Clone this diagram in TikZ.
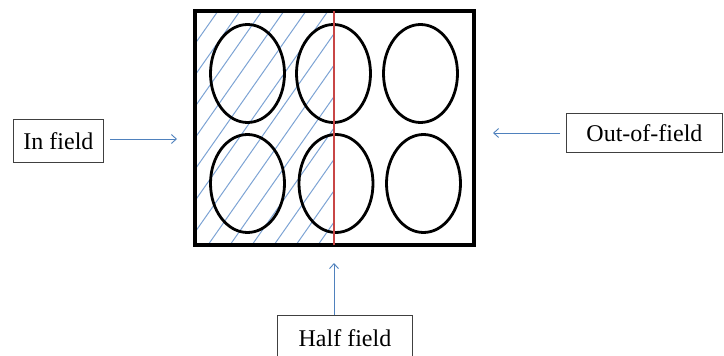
\documentclass[tikz,border=0pt]{standalone}
\usepackage{fontspec}
\setmainfont{Liberation Serif}
\usetikzlibrary{arrows.meta}
\definecolor{frameblue}{RGB}{79,129,189}
\definecolor{hatchblue}{RGB}{125,163,212}
\definecolor{cutred}{RGB}{200,70,70}
\definecolor{boxgray}{RGB}{64,64,64}
\tikzset{
  label box/.style={draw=boxgray, line width=0.9pt, fill=white, inner sep=0pt,
    font=\fontsize{24}{28}\selectfont, anchor=north west},
  pointer/.style={draw=frameblue, line width=0.9pt,
    -{Straight Barb[length=5pt,width=9pt,line width=0.9pt]}},
  well/.style={draw=black, line width=2.8pt},
  hatch/.style={draw=hatchblue, line width=1pt},
  plate/.style={draw=black, line width=3.2pt},
  cut/.style={draw=cutred, line width=2.8pt}
}
\begin{document}
\begin{tikzpicture}[x=1pt,y=-1pt]
  \useasboundingbox (0,0) rectangle (724,356);
  \clip (0,0) rectangle (724,356);

  % hatched half of the plate
  \begin{scope}
    \clip (195,11) rectangle (334,245);
    \foreach \k in {-1,...,13}
      \draw[hatch] ({218+22*\k},11) -- ({218+22*\k-164},245);
  \end{scope}

  % wells
  \foreach \cx/\cy in {247.5/73.5, 333.5/73.5, 420.5/73.5,
                       247.5/183.5, 336/183.5, 423.5/183.5}
    \draw[well] (\cx,\cy) ellipse [x radius=37, y radius=49];

  % plate outline and the cut line
  \draw[plate] (195,11) rectangle (474,245);
  \draw[cut] (334,11) -- (334,245);

  % labels
  \node[label box, minimum width=90pt, minimum height=43pt] (in) at (13,119) {In field};
  \node[label box, minimum width=156pt, minimum height=39pt] (out) at (566,113) {Out-of-field};
  \node[label box, minimum width=135pt, minimum height=46pt] (half) at (277,315) {Half field};

  % arrow targets
  \coordinate (inend) at (177,139);
  \coordinate (outend) at (493,133);
  \coordinate (halfend) at (334,263);

  \draw[pointer] (110,139) -- (inend);
  \draw[pointer] (out.west |- outend) ++(-6,0) -- (outend);
  \draw[pointer] (half.north -| halfend) -- (halfend);
\end{tikzpicture}
\end{document}
